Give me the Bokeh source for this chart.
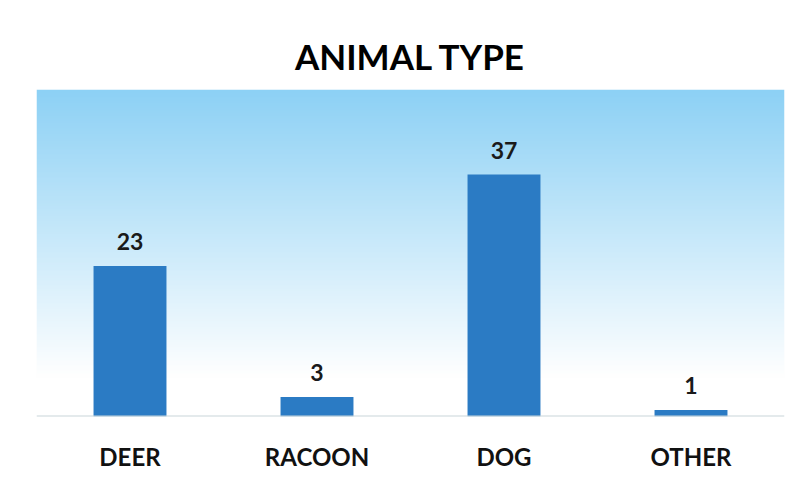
import numpy as np
from bokeh.plotting import figure
from bokeh.models import ColumnDataSource, FixedTicker, Span, Range1d, LabelSet
from bokeh.core.properties import value
from bokeh.embed import file_html
from bokeh.resources import INLINE

categories = ["DEER", "RACOON", "DOG", "OTHER"]
counts = [23, 3, 37, 1]

x_pos = [i + 0.5 for i in range(len(categories))]
labels = [str(v) for v in counts]

src = ColumnDataSource(dict(x=x_pos, top=counts, label=labels))

p = figure(width=797, height=485, output_backend="svg", toolbar_location=None,
           x_range=Range1d(0, len(categories)), y_range=Range1d(0, 50),
           min_border_left=36, min_border_right=13, min_border_top=89,
           min_border_bottom=69)

# gradient background (light blue at top fading to white)
n = 200
t = np.linspace(0, 1, n)  # 0 bottom -> 1 top
top_c = np.array([141, 209, 245])
white = np.array([255, 255, 255])
f = np.clip((t - 0.12) / 0.88, 0, 1) ** 1.0
img = np.zeros((n, 1), dtype=np.uint32)
view = img.view(dtype=np.uint8).reshape((n, 1, 4))
cols = (white[None, :] * (1 - f[:, None]) + top_c[None, :] * f[:, None]).astype(np.uint8)
view[:, 0, 0] = cols[:, 0]
view[:, 0, 1] = cols[:, 1]
view[:, 0, 2] = cols[:, 2]
view[:, 0, 3] = 255
p.image_rgba(image=[img], x=0, y=0, dw=len(categories), dh=50)

p.vbar(x="x", top="top", width=0.39, bottom=0, source=src,
       fill_color="#2b7bc4", line_color=None)

p.add_layout(Span(location=0, dimension="width", line_color="#c9d6da", line_width=2))

p.add_layout(LabelSet(x="x", y="top", text="label", source=src, text_align="center",
                      text_baseline="bottom", y_offset=16, text_font=value("Lato"),
                      text_font_style="bold", text_font_size="23px", text_color="#1a1a1a"))

p.title.text = "ANIMAL TYPE"
p.title.align = "center"
p.title.text_font = "Lato"
p.title.text_font_style = "bold"
p.title.text_font_size = "35px"
p.title.text_color = "#000000"
p.title.standoff = 26

p.xaxis.ticker = FixedTicker(ticks=x_pos)
p.xaxis.major_label_overrides = {x: c for x, c in zip(x_pos, categories)}
p.xaxis.axis_line_color = None
p.xaxis.major_tick_line_color = None
p.xaxis.minor_tick_line_color = None
p.xaxis.major_label_standoff = 19
p.xaxis.major_label_text_font = "Lato"
p.xaxis.major_label_text_font_style = "bold"
p.xaxis.major_label_text_font_size = "24px"
p.xaxis.major_label_text_color = "#111111"
p.yaxis.visible = False
p.xgrid.grid_line_color = None
p.ygrid.grid_line_color = None
p.outline_line_color = None
p.background_fill_color = "white"
p.border_fill_color = "white"

open("out.html", "w").write(file_html(p, INLINE))
